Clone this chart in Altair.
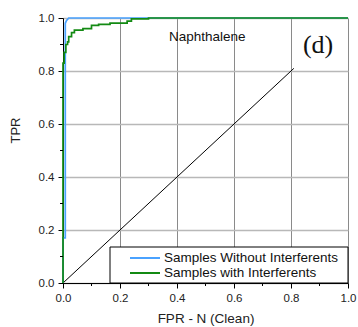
import altair as alt
import pandas as pd

# Series: Samples Without Interferents (blue)
blue_fpr = [0.0, 0.0, 0.008, 0.008, 0.012, 0.020, 1.0]
blue_tpr = [0.0, 0.17, 0.17, 0.980, 0.990, 1.000, 1.0]

# Series: Samples with Interferents (green)
green_fpr = [0.0, 0.0, 0.004, 0.004, 0.010, 0.010, 0.016, 0.016, 0.020, 0.020,
             0.030, 0.030, 0.040, 0.040, 0.070, 0.070, 0.100, 0.100, 0.125, 0.125,
             0.165, 0.165, 0.225, 0.225, 0.240, 0.240, 0.300, 0.300, 1.0]
green_tpr = [0.0, 0.830, 0.830, 0.870, 0.870, 0.900, 0.900, 0.910, 0.910, 0.930,
             0.930, 0.945, 0.945, 0.954, 0.954, 0.960, 0.960, 0.972, 0.972, 0.976,
             0.976, 0.981, 0.981, 0.988, 0.988, 0.997, 0.997, 1.000, 1.0]

# Diagonal reference line
diag_fpr = [0.0, 0.81]
diag_tpr = [0.0, 0.81]

series_names = ["Samples Without Interferents", "Samples with Interferents"]
series_colors = ["#4aa2ff", "#138a13"]

x_major = [0.0, 0.2, 0.4, 0.6, 0.8, 1.0]
y_major = [0.0, 0.2, 0.4, 0.6, 0.8, 1.0]
minor = [0.1, 0.3, 0.5, 0.7, 0.9]

rows = []
for i, (x, y) in enumerate(zip(blue_fpr, blue_tpr)):
    rows.append({"fpr": x, "tpr": y, "series": series_names[0], "i": i})
for i, (x, y) in enumerate(zip(green_fpr, green_tpr)):
    rows.append({"fpr": x, "tpr": y, "series": series_names[1], "i": i})
df = pd.DataFrame(rows)
diag = pd.DataFrame({"fpr": diag_fpr, "tpr": diag_tpr, "i": range(len(diag_fpr))})

FONT = "Liberation Sans"
xs = alt.Scale(domain=[0, 1], nice=False)
ys = alt.Scale(domain=[0, 1], nice=False)

x_axis = alt.Axis(values=x_major, format=".1f", orient="bottom", grid=True,
                  gridColor="#8a8a8a", gridWidth=1, tickSize=5, tickColor="black",
                  domainColor="black", labelPadding=4, labelFontSize=11.5,
                  labelColor="#222", labelFont=FONT, labelOverlap=False,
                  labelFlush=False,
                  title="FPR - N (Clean)",
                  titleFont=FONT, titleFontSize=13.5, titleFontWeight="normal",
                  titleColor="#222", titleY=35, titleBaseline="middle")
y_axis = alt.Axis(values=y_major, format=".1f", orient="left", grid=True,
                  gridColor="#b8b8b8", gridWidth=1.5, tickSize=5, tickColor="black",
                  domainColor="black", labelPadding=4, labelFontSize=11.5,
                  labelColor="#222", labelFont=FONT, labelOverlap=False,
                  labelFlush=False,
                  title="TPR",
                  titleFont=FONT, titleFontSize=13, titleFontWeight="normal",
                  titleColor="#222", titleX=-48, titleY=112, titleAngle=270,
                  titleAlign="center", titleBaseline="middle")

diag_layer = alt.Chart(diag).mark_line(color="black", strokeWidth=1).encode(
    x=alt.X("fpr:Q", scale=xs, axis=x_axis),
    y=alt.Y("tpr:Q", scale=ys, axis=y_axis),
    order="i:O",
)

curves = alt.Chart(df).mark_line(strokeWidth=1.7).encode(
    x=alt.X("fpr:Q"),
    y=alt.Y("tpr:Q"),
    color=alt.Color("series:N",
                    scale=alt.Scale(domain=series_names, range=series_colors),
                    sort=series_names, legend=None),
    order="i:O",
)

minor_df = pd.DataFrame({"v": minor})
minor_x = alt.Chart(minor_df).mark_rule(color="black", strokeWidth=1).encode(
    x=alt.X("v:Q"), y=alt.value(265), y2=alt.value(268))
minor_y = alt.Chart(minor_df).mark_rule(color="black", strokeWidth=1).encode(
    y=alt.Y("v:Q"), x=alt.value(-3), x2=alt.value(0))

label_df = pd.DataFrame({"x": [0.506], "y": [0.930], "t": ["Naphthalene"]})
label = alt.Chart(label_df).mark_text(font=FONT, fontSize=13.5, color="#111",
                                      baseline="middle", align="center").encode(
    x=alt.X("x:Q"), y=alt.Y("y:Q"), text="t:N")
panel_df = pd.DataFrame({"x": [0.895], "y": [0.9], "t": ["(d)"]})
panel = alt.Chart(panel_df).mark_text(font="Liberation Serif", fontSize=26,
                                      color="#111", baseline="middle",
                                      align="center").encode(
    x=alt.X("x:Q"), y=alt.Y("y:Q"), text="t:N")

# Legend (drawn as a boxed key in the lower right of the plot area)
leg_box = alt.Chart(pd.DataFrame({"a": [0]})).mark_rect(
    fill="white", stroke="black", strokeWidth=1).encode(
    x=alt.value(47), x2=alt.value(285), y=alt.value(229), y2=alt.value(265))
leg_layers = [leg_box]
row_y = [240, 255]
for name, col, ry in zip(series_names, series_colors, row_y):
    d = pd.DataFrame({"t": [name]})
    leg_layers.append(alt.Chart(d).mark_rule(color=col, strokeWidth=2).encode(
        x=alt.value(67), x2=alt.value(97), y=alt.value(ry)))
    leg_layers.append(alt.Chart(d).mark_text(
        font=FONT, fontSize=13.5, color="#111", align="left", baseline="middle").encode(
        x=alt.value(101), y=alt.value(ry), text="t:N"))

chart = alt.layer(diag_layer, curves, minor_x, minor_y, label, panel,
                  *leg_layers).properties(
    width=285, height=265,
    autosize=alt.AutoSizeParams(type="none"),
    padding={"left": 63, "top": 18, "right": 10, "bottom": 44},
).configure_view(stroke="black", strokeWidth=1).configure(background="white")

chart.save("out.html", embed_options={"renderer": "svg", "actions": False})
